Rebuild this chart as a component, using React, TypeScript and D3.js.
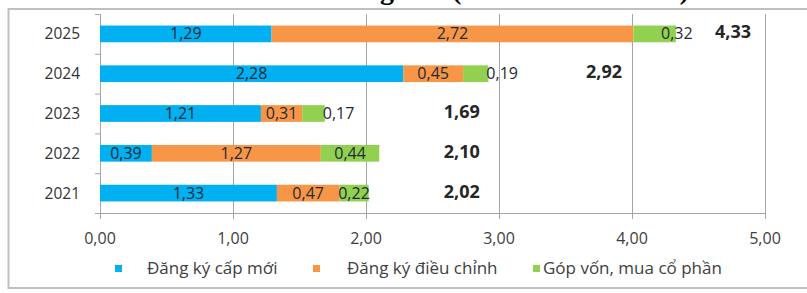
import React from "react"
import * as d3 from "d3"

// years top to bottom, as in the picture
const years = ["2025", "2024", "2023", "2022", "2021"]
const newReg = [1.29, 2.28, 1.21, 0.39, 1.33]
const adjusted = [2.72, 0.45, 0.31, 1.27, 0.47]
const capital = [0.32, 0.19, 0.17, 0.44, 0.22]
const totals = ["4,33", "2,92", "1,69", "2,10", "2,02"]
// where the bold total label sits (in axis units)
const totalAt = [4.76, 3.79, 2.72, 2.72, 2.72]
const xTicks = [0, 1, 2, 3, 4, 5]
const seriesNames = ["Đăng ký cấp mới", "Đăng ký điều chỉnh", "Góp vốn, mua cổ phần"]
const colors = ["#00b0f0", "#f79646", "#92d050"]

const W = 807
const H = 293
const FONT = "'Open Sans', Lato, sans-serif"

const fmt = (v: number) => v.toFixed(2).replace(".", ",")

export default function App() {
  const x = d3.scaleLinear().domain([0, 5]).range([100, 765])
  const y = d3.scaleBand().domain(years).range([14, 213]).paddingInner(0.58).paddingOuter(0.29)
  const step = y.step()
  const mid = (yr: string) => y(yr)! + y.bandwidth() / 2

  const rows = years.map((yr, i) => ({ year: yr, a: newReg[i], b: adjusted[i], c: capital[i] }))
  const stack = d3.stack<any>().keys(["a", "b", "c"])(rows)

  // labels Excel had dragged out of the green segment
  const outside: Record<string, string> = { "2025": "middle", "2024": "start", "2023": "start" }

  const legendX = [[115, 147], [313, 347], [533, 543]]

  return (
    <svg width={W} height={H} style={{ position: "absolute", left: 0, top: 0, background: "#fff" }}>
      {/* cropped title from the page above */}
      <g fontFamily="'Liberation Serif', serif" fontWeight="bold" fontSize={28} fill="#000">
        <text x={394} y={-0.8} textAnchor="end">Cơ cấu vốn FDI đăng</text>
        <text x={452} y={-0.8}>(</text>
        <text x={568} y={-0.8} textAnchor="middle">tỉ USD</text>
        <text x={689} y={-0.8} textAnchor="end">)</text>
      </g>

      {/* chart frame */}
      <path d={`M${W + 2},9H8.5V288H${W + 2}`} fill="none" stroke="#bfbfbf" strokeWidth={2} />

      {/* gridlines */}
      {xTicks.slice(1).map(t => (
        <line key={t} x1={x(t) + 0.5} x2={x(t) + 0.5} y1={14} y2={213} stroke="#a6a6a6" />
      ))}

      {/* axes */}
      <line x1={x(0)} x2={x(5) + 1} y1={213.5} y2={213.5} stroke="#a6a6a6" />
      {xTicks.map(t => (
        <line key={t} x1={x(t) + 0.5} x2={x(t) + 0.5} y1={213} y2={219} stroke="#a6a6a6" />
      ))}
      <line x1={100.5} x2={100.5} y1={14} y2={213} stroke="#a6a6a6" />
      {d3.range(6).map(i => (
        <line key={i} x1={95} x2={100} y1={14 + i * step + 0.5} y2={14 + i * step + 0.5} stroke="#a6a6a6" />
      ))}

      {/* bars */}
      {stack.map((s, si) => (
        <g key={si} fill={colors[si]}>
          {s.map((d, i) => (
            <rect key={i} x={x(d[0])} y={y(years[i])!} width={x(d[1]) - x(d[0])} height={y.bandwidth()} />
          ))}
        </g>
      ))}

      {/* segment labels */}
      <g fontFamily={FONT} fontSize={16} fill="#1f2a36">
        {stack.map((s, si) =>
          s.map((d, i) => {
            const yr = years[i]
            const v = d[1] - d[0]
            let cx = (x(d[0]) + x(d[1])) / 2
            let anchor = "middle"
            if (si === 2 && outside[yr] === "middle") cx = x(d[1]) + 1
            if (si === 2 && outside[yr] === "start") { cx = x(d[1]) - 2; anchor = "start" }
            return (
              <text key={`${si}-${i}`} x={cx} y={mid(yr) + 5.5} textAnchor={anchor}>{fmt(v)}</text>
            )
          })
        )}
      </g>

      {/* totals */}
      <g fontFamily={FONT} fontSize={18} fontWeight="bold" fill="#262626" textAnchor="middle">
        {years.map((yr, i) => (
          <text key={yr} x={x(totalAt[i])} y={mid(yr) + 4.5}>{totals[i]}</text>
        ))}
      </g>

      {/* year labels */}
      <g fontFamily={FONT} fontSize={15.5} fill="#333" textAnchor="end">
        {years.map(yr => (
          <text key={yr} x={80} y={mid(yr) + 5.5}>{yr}</text>
        ))}
      </g>

      {/* x tick labels */}
      <g fontFamily={FONT} fontSize={16} fill="#404040" textAnchor="middle">
        {xTicks.map(t => (
          <text key={t} x={x(t)} y={244}>{fmt(t)}</text>
        ))}
      </g>

      {/* legend */}
      <g fontFamily={FONT} fontSize={17} fill="#404040">
        {seriesNames.map((n, i) => (
          <g key={n}>
            <rect x={legendX[i][0]} y={265} width={7} height={7} fill={colors[i]} />
            <text x={legendX[i][1]} y={274}>{n}</text>
          </g>
        ))}
      </g>
    </svg>
  )
}
